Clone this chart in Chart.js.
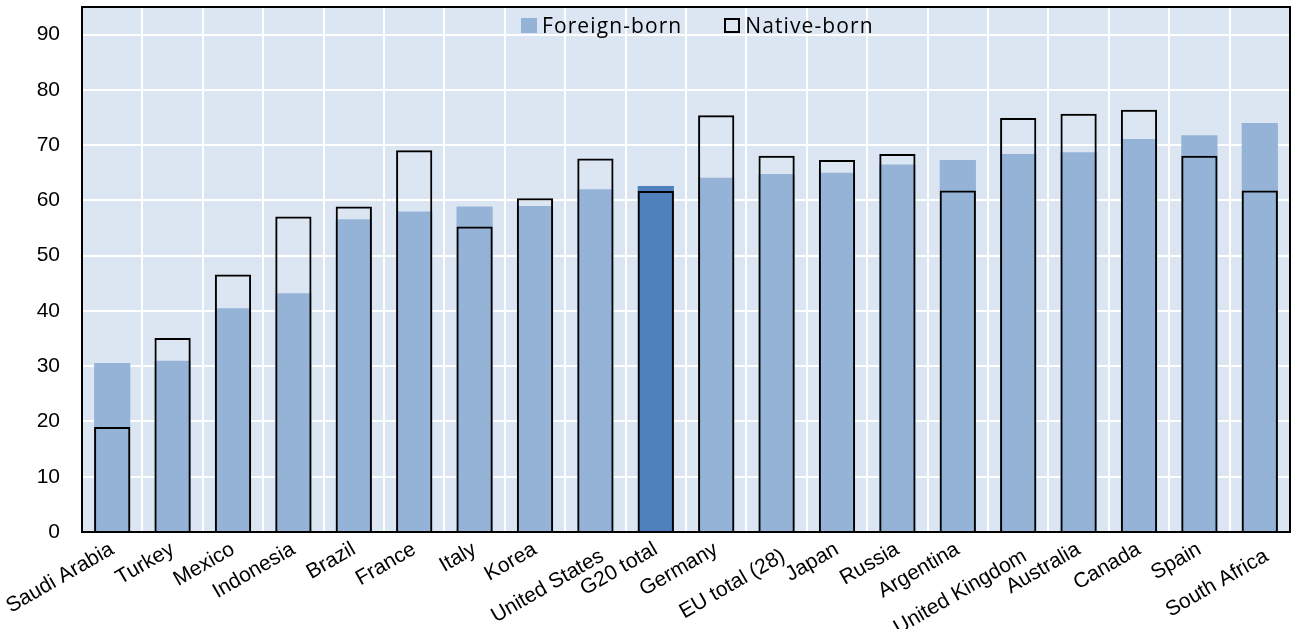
<!DOCTYPE html>
<html>
<head>
<meta charset="utf-8">
<script src="https://cdn.jsdelivr.net/npm/chart.js@4.4.1/dist/chart.umd.min.js"></script>
<style>
  body { margin: 0; background: #ffffff; }
  #wrap { position: relative; width: 1298px; height: 629px; }
  #legend {
    position: absolute; left: 521px; top: 10px;
    font-family: "Open Sans", "Noto Sans", sans-serif; font-size: 21px; letter-spacing: 1.1px; color: #000;
    display: flex; align-items: center; white-space: nowrap; line-height: 30px;
  }
  .key { display: inline-block; width: 16px; height: 15px; margin-right: 5px; box-sizing: border-box; }
  .item { display: flex; align-items: center; }
</style>
</head>
<body>
<div id="wrap">
  <canvas id="chart" width="1298" height="629"></canvas>
  <div id="legend">
    <span class="item" style="margin-right:42px"><span class="key" style="background:#95b3d7"></span>Foreign-born</span>
    <span class="item"><span class="key" style="border:2px solid #000"></span>Native-born</span>
  </div>
</div>
<script>
// Employment rates by place of birth, G20 countries
const categories = ['Saudi Arabia', 'Turkey', 'Mexico', 'Indonesia', 'Brazil', 'France', 'Italy', 'Korea',
  'United States', 'G20 total', 'Germany', 'EU total (28)', 'Japan', 'Russia', 'Argentina',
  'United Kingdom', 'Australia', 'Canada', 'Spain', 'South Africa'];
const foreignBorn = [30.6, 31.0, 40.5, 43.2, 56.6, 58.0, 58.9, 59.0, 62.0, 62.6, 64.1, 64.8, 65.0,
  66.5, 67.3, 68.4, 68.7, 71.1, 71.8, 74.0];
const nativeBorn = [19.0, 35.1, 46.6, 57.1, 58.9, 69.1, 55.3, 60.4, 67.6, 61.7, 75.4, 68.1, 67.3,
  68.4, 61.8, 74.9, 75.7, 76.4, 68.1, 61.8];
// labels that Excel pushed down a row to avoid overlap
const staggered = ['United States', 'EU total (28)', 'United Kingdom', 'South Africa'];

const labels = categories.map(c => staggered.includes(c) ? ['', c] : c);
const foreignColors = categories.map(c => c === 'G20 total' ? '#4f81bd' : '#95b3d7');

const plotFrame = {
  id: 'plotFrame',
  beforeDraw(chart) {
    const { ctx, chartArea: a } = chart;
    ctx.save();
    ctx.fillStyle = '#dce6f2';
    ctx.fillRect(a.left, a.top, a.width, a.height);
    ctx.restore();
  },
  afterDraw(chart) {
    const { ctx, chartArea: a } = chart;
    ctx.save();
    ctx.strokeStyle = '#000';
    ctx.lineWidth = 2;
    ctx.strokeRect(a.left, a.top, a.width, a.height);
    ctx.restore();
  }
};

const fontFamily = '"Liberation Sans", Arial, sans-serif';

new Chart(document.getElementById('chart'), {
  type: 'bar',
  data: {
    labels: labels,
    datasets: [{
      label: 'Foreign-born',
      data: foreignBorn,
      backgroundColor: foreignColors,
      borderWidth: 0,
      grouped: false,
      barPercentage: 0.6,
      categoryPercentage: 1,
      order: 2
    }, {
      label: 'Native-born',
      data: nativeBorn,
      backgroundColor: 'rgba(0,0,0,0)',
      borderColor: '#000',
      borderWidth: 2,
      grouped: false,
      barPercentage: 0.6,
      categoryPercentage: 1,
      order: 1
    }]
  },
  options: {
    responsive: false,
    animation: false,
    devicePixelRatio: 1,
    layout: { padding: { left: 0, right: 8, top: 7, bottom: 0 } },
    plugins: { legend: { display: false }, tooltip: { enabled: false } },
    scales: {
      x: {
        grid: { color: '#ffffff', lineWidth: 2, offset: true, drawTicks: false },
        border: { display: false },
        ticks: {
          color: '#000',
          font: (ctx) => ({ family: fontFamily, size: 21,
            lineHeight: staggered.includes(categories[ctx.index]) ? 0.65 : 1.2 }),
          minRotation: 30, maxRotation: 30, padding: 5, autoSkip: false
        },
        afterFit(scale) {
          scale.height = 97;
          scale.paddingLeft = 0;
          scale.paddingRight = 0;
        }
      },
      y: {
        min: 0,
        max: 95,
        grid: { color: '#ffffff', lineWidth: 2, drawTicks: false },
        border: { display: false },
        ticks: { color: '#000', font: { family: fontFamily, size: 21 }, stepSize: 10, padding: 22 },
        afterBuildTicks(scale) { scale.ticks = scale.ticks.filter(t => t.value <= 90); },
        afterFit(scale) {
          scale.width = 82;
          scale.paddingTop = 0;
          scale.paddingBottom = 0;
        }
      }
    }
  },
  plugins: [plotFrame]
});
</script>
</body>
</html>
